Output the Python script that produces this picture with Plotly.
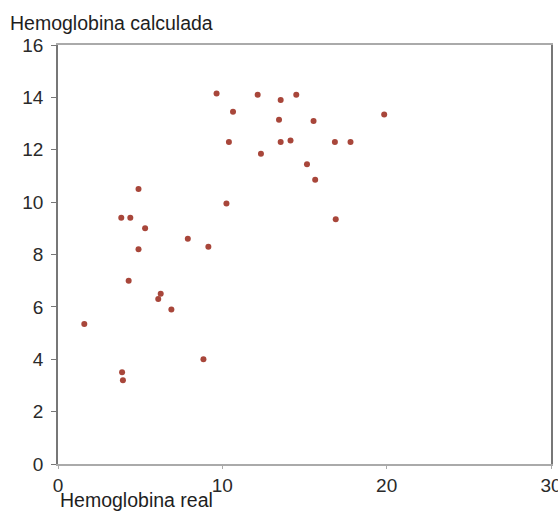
import plotly.graph_objects as go

hb_real = [1.6, 3.9, 3.95, 3.85, 4.4, 4.3, 4.9, 4.9, 5.3, 6.25, 6.1, 6.9, 7.9, 8.85, 9.15,
           9.65, 10.25, 10.4, 10.65, 12.15, 12.35, 13.45, 13.55, 13.55, 14.15, 14.5,
           15.55, 15.15, 15.65, 16.85, 17.8, 16.9, 19.85]
hb_calc = [5.35, 3.5, 3.2, 9.4, 9.4, 7.0, 10.5, 8.2, 9.0, 6.5, 6.3, 5.9, 8.6, 4.0, 8.3,
           14.15, 9.95, 12.3, 13.45, 14.1, 11.85, 13.15, 13.9, 12.3, 12.35, 14.1,
           13.1, 11.45, 10.85, 12.3, 12.3, 9.35, 13.35]
x_ticks = [0, 10, 20, 30]
y_ticks = [0, 2, 4, 6, 8, 10, 12, 14, 16]

fig = go.Figure(go.Scatter(
    x=hb_real, y=hb_calc, mode="markers",
    marker=dict(symbol="circle", size=6, color="#a8463a", line=dict(width=0)),
))

FAM = "Liberation Sans, Arial, sans-serif"
tick_font = dict(family=FAM, size=19, color="#2a2a2a")
title_font = dict(family=FAM, size=19.5, color="#1e1e1e")

fig.update_layout(
    width=558, height=511,
    margin=dict(l=58, r=7, t=45, b=47, autoexpand=False),
    paper_bgcolor="white", plot_bgcolor="white",
    showlegend=False,
    font=tick_font,
    xaxis=dict(range=[0, 30], tickvals=x_ticks, ticks="outside", ticklen=3,
               tickcolor="#aaaaaa", showgrid=False, zeroline=False,
               showline=True, linecolor="#aaaaaa", linewidth=1.5, mirror=True,
               tickfont=tick_font, ticklabeloverflow="allow"),
    yaxis=dict(range=[0, 16], tickvals=y_ticks, ticks="outside", ticklen=5,
               tickcolor="#777777", showgrid=False, zeroline=False,
               showline=True, linecolor="#777777", linewidth=1.5, mirror=True,
               tickfont=tick_font, ticklabelstandoff=4, ticklabeloverflow="allow"),
    annotations=[
        dict(text="Hemoglobina calculada", xref="paper", yref="paper",
             x=-0.1014, y=1.0, yshift=22, xanchor="left", yanchor="middle",
             showarrow=False, font=title_font),
        dict(text="Hemoglobina real", xref="paper", yref="paper",
             x=0, y=0, yshift=-36, xanchor="left", yanchor="middle",
             showarrow=False, font=title_font),
    ],
)

fig.write_html("out.html", config={"displayModeBar": False},
               post_script="document.body.style.margin='0';document.body.style.overflow='hidden';")
